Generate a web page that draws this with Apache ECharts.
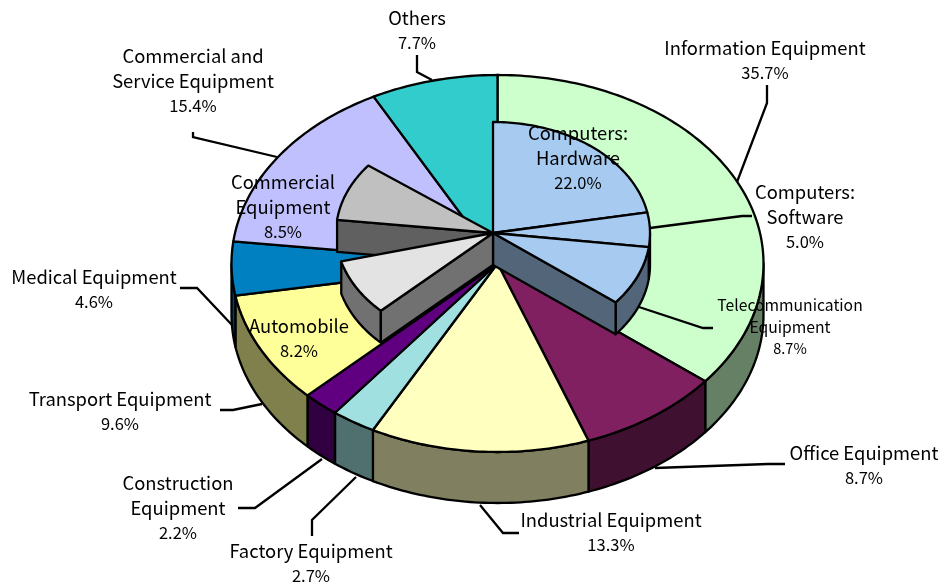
<!DOCTYPE html>
<html>
<head>
<meta charset="utf-8">
<style>
  html, body { margin: 0; padding: 0; background: #fff; }
  #main { width: 945px; height: 587px; }
</style>
<script src="https://cdn.jsdelivr.net/npm/echarts@6/dist/echarts.min.js"></script>
</head>
<body>
<div id="main"></div>
<script>
// outer ring, clockwise from 12 o'clock
const outerNames = ["Information Equipment", "Office Equipment", "Industrial Equipment", "Factory Equipment",
  "Construction\nEquipment", "Transport Equipment", "Medical Equipment", "Commercial and\nService Equipment", "Others"];
const outerValues = [35.7, 8.7, 13.3, 2.7, 2.2, 9.6, 4.6, 15.4, 7.7];
const outerColors = ["#ccffcc", "#802060", "#ffffc0", "#a0e0e0", "#600080", "#ffff99", "#0080c0", "#c0c0ff", "#33cccc"];
const outerSides = ["#668066", "#401030", "#808060", "#507070", "#300040", "#80804c", "#004060", "#606080", "#1a6666"];

// raised wedges, each one starts where its parent's remaining share starts
const innerNames = ["Computers:\nHardware", "Computers:\nSoftware", "Telecommunication\nEquipment", "Commercial\nEquipment", "Automobile"];
const innerValues = [22.0, 5.0, 8.7, 8.5, 8.2];
const innerParents = [0, 0, 0, 7, 5];
const innerColors = ["#a6caf0", "#a6caf0", "#a6caf0", "#c0c0c0", "#e3e3e3"];
const innerSides = ["#536578", "#536578", "#536578", "#606060", "#717171"];

const outerPie = { cx: 497.5, cy: 263.5, rx: 266, ry: 188.5, depth: 51 };
const innerPie = { cx: 493, cy: 233, rx: 157, ry: 111, depth: 32 };

const total = outerValues.reduce((a, b) => a + b, 0);
const toDeg = v => v / total * 360;

function rim(p, deg, drop) {
  const r = deg * Math.PI / 180;
  return [p.cx + p.rx * Math.sin(r), p.cy - p.ry * Math.cos(r) + (drop || 0)];
}
function arc(p, from, to, drop) {
  const pts = [];
  const n = Math.max(2, Math.ceil(Math.abs(to - from)));
  for (let i = 0; i <= n; i++) pts.push(rim(p, from + (to - from) * i / n, drop));
  return pts;
}

// list of polygons in paint order
const faces = [];
function addTop(p, a, b, fill) {
  faces.push({ fill: fill, points: [[p.cx, p.cy]].concat(arc(p, a, b)) });
}
function addRimSide(p, a, b, fill) {
  const from = Math.max(a, 90), to = Math.min(b, 270);
  if (to <= from) return;
  faces.push({ fill: fill, points: arc(p, from, to).concat(arc(p, to, from, p.depth)) });
}
function addCutSide(p, deg, fill) {
  faces.push({ fill: fill, points: [[p.cx, p.cy], rim(p, deg), rim(p, deg, p.depth), [p.cx, p.cy + p.depth]] });
}

const outerStart = [];
let acc = 0;
outerValues.forEach(v => { outerStart.push(acc); acc += toDeg(v); });

outerValues.forEach((v, i) => addRimSide(outerPie, outerStart[i], outerStart[i] + toDeg(v), outerSides[i]));
outerValues.forEach((v, i) => addTop(outerPie, outerStart[i], outerStart[i] + toDeg(v), outerColors[i]));

const innerRange = [];
const used = {};
innerValues.forEach((v, i) => {
  const par = innerParents[i];
  const a = outerStart[par] + (used[par] || 0);
  used[par] = (used[par] || 0) + toDeg(v);
  innerRange.push([a, a + toDeg(v)]);
});
[[3], [0, 1, 2], [4]].forEach(group => {
  group.forEach(i => {
    const [a, b] = innerRange[i];
    addRimSide(innerPie, a, b, innerSides[i]);
    if (a > 180 && a < 360) addCutSide(innerPie, a, innerSides[i]);
  });
  const last = group[group.length - 1];
  if (innerRange[last][1] < 180) addCutSide(innerPie, innerRange[last][1], innerSides[last]);
  group.forEach(i => addTop(innerPie, innerRange[i][0], innerRange[i][1], innerColors[i]));
});

// label centres and leader lines
const outerLabelPos = [[765, 60], [864, 465], [611, 532], [311, 563], [178, 508], [120, 411], [94, 289], [193, 81], [417, 30]];
const innerLabelPos = [[578, 158], [805, 217], [790, 327], [283, 207], [299, 338]];
const leaders = [
  [[767, 85], [767, 103], [737, 182]],
  [[655, 468], [768, 464], [785, 464]],
  [[480, 505], [503, 533], [519, 533]],
  [[312, 536], [312, 520], [356, 477]],
  [[238, 508], [255, 508], [322, 459]],
  [[220, 410], [233, 410], [262, 404]],
  [[180, 288], [197, 288], [232, 325]],
  [[193, 132], [193, 137], [277, 157]],
  [[417, 55], [417, 72], [432, 80]],
  [[650, 228], [742, 216], [752, 216]],
  [[639, 307], [703, 328], [713, 328]]
];

const FONT = '"Noto Sans CJK JP", "Noto Sans", sans-serif';
function labelEl(name, value, pos, size, numSize, lh) {
  const lines = name.split("\n").map(s => "{n|" + s + "}");
  lines.push("{v|" + value.toFixed(1) + "%}");
  return {
    type: "text", z: 100, silent: true, x: pos[0], y: pos[1],
    style: {
      text: lines.join("\n"), align: "center", verticalAlign: "middle",
      rich: {
        n: { fontFamily: FONT, fontSize: size, lineHeight: lh, fill: "#000", align: "center" },
        v: { fontFamily: FONT, fontSize: numSize, lineHeight: lh, fill: "#000", align: "center" }
      }
    }
  };
}

const elements = [];
leaders.forEach(pts => elements.push({
  type: "polyline", z: 90, silent: true, shape: { points: pts },
  style: { stroke: "#000", lineWidth: 2.3, fill: null }
}));
outerNames.forEach((n, i) => elements.push(labelEl(n, outerValues[i], outerLabelPos[i], 18.4, 16.5, 24.5)));
innerNames.forEach((n, i) => elements.push(i === 2
  ? labelEl(n, innerValues[i], innerLabelPos[i], 15.7, 14.5, 21.5)
  : labelEl(n, innerValues[i], innerLabelPos[i], 18.4, 16.5, 24.5)));

let myChart = echarts.init(document.getElementById("main"));
myChart.setOption({
  animation: false,
  backgroundColor: "#fff",
  series: [{
    type: "custom",
    coordinateSystem: "none",
    silent: true,
    data: faces.map((f, i) => [i]),
    renderItem: function(params, api) {
      const f = faces[api.value(0)];
      return {
        type: "polygon",
        shape: { points: f.points },
        style: { fill: f.fill, stroke: "#000", lineWidth: 2.3, lineJoin: "round" }
      };
    }
  }],
  graphic: { elements: elements }
});
</script>
</body>
</html>
